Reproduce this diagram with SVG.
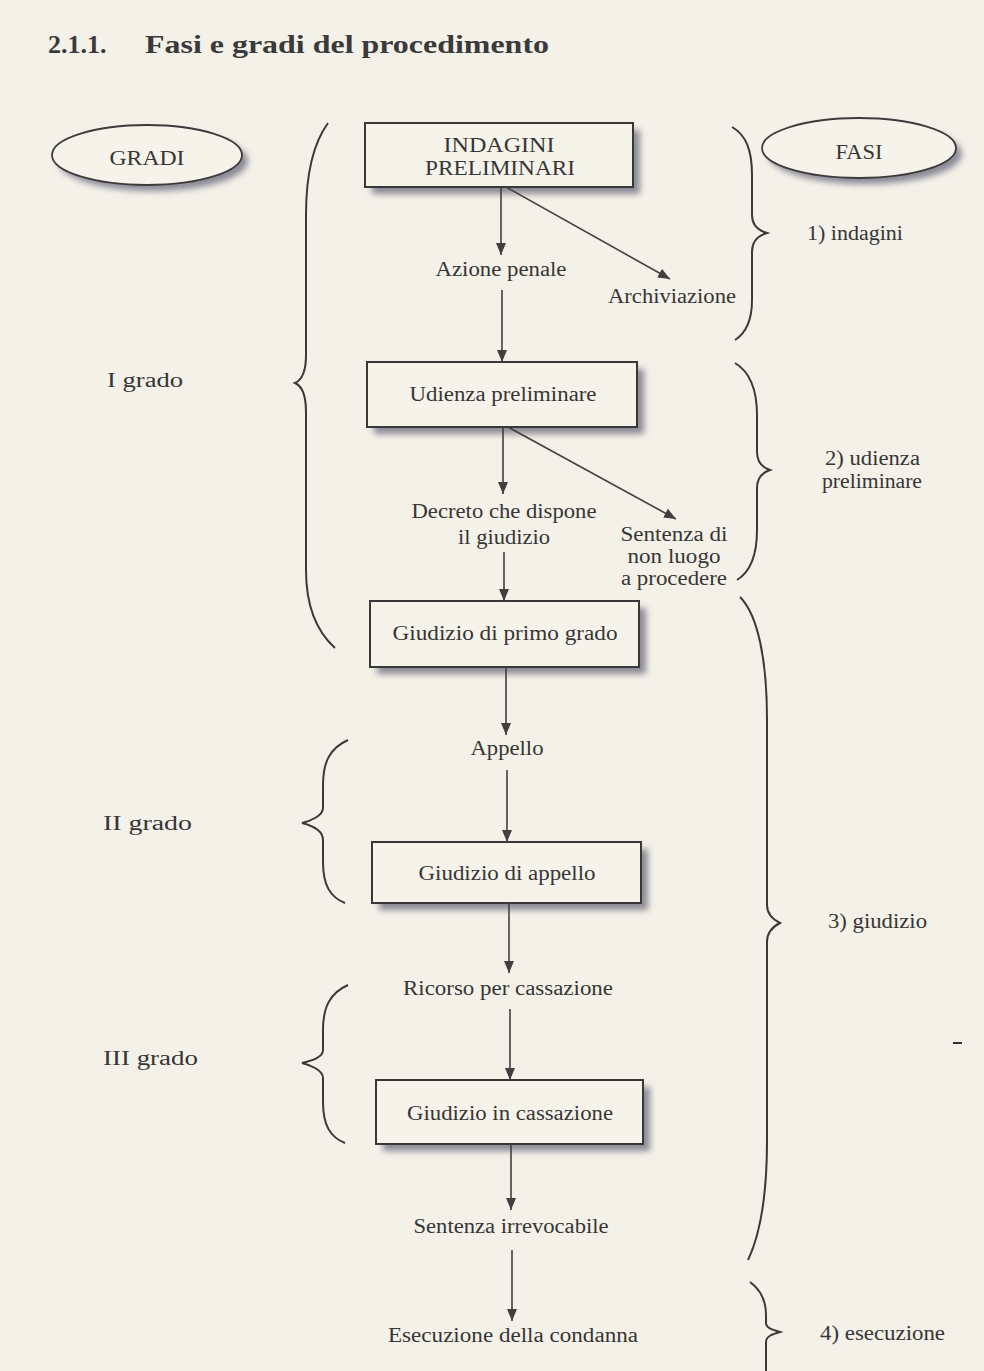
<svg xmlns="http://www.w3.org/2000/svg" width="984" height="1371" viewBox="0 0 984 1371">
<style>
text{font-family:"Liberation Serif","DejaVu Serif",serif;fill:#363636;font-size:20px}
.c{text-anchor:middle}
.t{font-weight:bold;font-size:26px;fill:#3a3a3a}
.box{fill:#f6f3ea;stroke:#383838;stroke-width:2}
.sh{fill:#8a8a96;filter:url(#blur)}
.ell{fill:#f6f3ea;stroke:#3c3c3c;stroke-width:1.8}
.br{fill:none;stroke:#3a3a3a;stroke-width:2}
.ln{stroke:#404040;stroke-width:1.6;fill:none;marker-end:url(#ah)}
</style>
<defs>
<filter id="blur" x="-20%" y="-40%" width="140%" height="180%"><feGaussianBlur stdDeviation="3"/></filter>
<marker id="ah" viewBox="0 0 12 12" refX="12" refY="6" markerWidth="12" markerHeight="12" markerUnits="userSpaceOnUse" orient="auto"><path d="M0,1 L12,6 L0,11 Z" fill="#404040"/></marker>
</defs>
<rect x="0" y="0" width="984" height="1371" fill="#f4f1e8"/>

<g id="title">
<text class="t" x="48" y="53">2.1.1.</text>
<text class="t" x="145" y="53" textLength="404" lengthAdjust="spacingAndGlyphs">Fasi e gradi del procedimento</text>
</g>

<g id="gradi">
<ellipse class="sh" cx="153" cy="161" rx="95" ry="30"/>
<ellipse class="ell" cx="147" cy="155" rx="95" ry="30"/>
<text class="c" x="147" y="165" textLength="75" lengthAdjust="spacingAndGlyphs">GRADI</text>
</g>
<g id="fasi">
<ellipse class="sh" cx="865" cy="154" rx="97" ry="30"/>
<ellipse class="ell" cx="859" cy="148" rx="97" ry="30"/>
<text class="c" x="859" y="159" textLength="47" lengthAdjust="spacingAndGlyphs">FASI</text>
</g>

<g id="n-indagini">
<rect class="sh" x="372" y="130" width="268" height="64"/>
<rect class="box" x="365" y="123" width="268" height="64"/>
<text class="c" x="499" y="152" textLength="111" lengthAdjust="spacingAndGlyphs">INDAGINI</text>
<text class="c" x="500" y="175" textLength="150" lengthAdjust="spacingAndGlyphs">PRELIMINARI</text>
</g>
<g id="n-azione"><text class="c" x="501" y="276" textLength="131" lengthAdjust="spacingAndGlyphs">Azione penale</text></g>
<g id="n-archiviazione"><text class="c" x="672" y="303" textLength="128" lengthAdjust="spacingAndGlyphs">Archiviazione</text></g>

<g id="n-udienza">
<rect class="sh" x="374" y="369" width="270" height="65"/>
<rect class="box" x="367" y="362" width="270" height="65"/>
<text class="c" x="503" y="401" textLength="187" lengthAdjust="spacingAndGlyphs">Udienza preliminare</text>
</g>
<g id="n-decreto">
<text class="c" x="504" y="518" textLength="185" lengthAdjust="spacingAndGlyphs">Decreto che dispone</text>
<text class="c" x="504" y="544" textLength="92" lengthAdjust="spacingAndGlyphs">il giudizio</text>
</g>
<g id="n-sentenza-nlp">
<text class="c" x="674" y="541" textLength="107" lengthAdjust="spacingAndGlyphs">Sentenza di</text>
<text class="c" x="674" y="563" textLength="93" lengthAdjust="spacingAndGlyphs">non luogo</text>
<text class="c" x="674" y="585" textLength="106" lengthAdjust="spacingAndGlyphs">a procedere</text>
</g>

<g id="n-primo">
<rect class="sh" x="377" y="608" width="269" height="66"/>
<rect class="box" x="370" y="601" width="269" height="66"/>
<text class="c" x="505" y="640" textLength="225" lengthAdjust="spacingAndGlyphs">Giudizio di primo grado</text>
</g>
<g id="n-appello"><text class="c" x="507" y="755" textLength="73" lengthAdjust="spacingAndGlyphs">Appello</text></g>
<g id="n-giud-appello">
<rect class="sh" x="379" y="849" width="269" height="61"/>
<rect class="box" x="372" y="842" width="269" height="61"/>
<text class="c" x="507" y="880" textLength="177" lengthAdjust="spacingAndGlyphs">Giudizio di appello</text>
</g>
<g id="n-ricorso"><text class="c" x="508" y="995" textLength="210" lengthAdjust="spacingAndGlyphs">Ricorso per cassazione</text></g>
<g id="n-cassazione">
<rect class="sh" x="383" y="1087" width="267" height="64"/>
<rect class="box" x="376" y="1080" width="267" height="64"/>
<text class="c" x="510" y="1120" textLength="206" lengthAdjust="spacingAndGlyphs">Giudizio in cassazione</text>
</g>
<g id="n-irrevocabile"><text class="c" x="511" y="1233" textLength="195" lengthAdjust="spacingAndGlyphs">Sentenza irrevocabile</text></g>
<g id="n-esecuzione"><text class="c" x="513" y="1342" textLength="250" lengthAdjust="spacingAndGlyphs">Esecuzione della condanna</text></g>

<g id="connectors">
<line class="ln" x1="501" y1="187" x2="501" y2="255"/>
<line class="ln" x1="506" y1="187" x2="670" y2="279"/>
<line class="ln" x1="502" y1="290" x2="502" y2="362"/>
<line class="ln" x1="503" y1="427" x2="503" y2="494"/>
<line class="ln" x1="508" y1="427" x2="676" y2="519"/>
<line class="ln" x1="504" y1="552" x2="504" y2="601"/>
<line class="ln" x1="506" y1="667" x2="506" y2="735"/>
<line class="ln" x1="507" y1="770" x2="507" y2="842"/>
<line class="ln" x1="509" y1="903" x2="509" y2="973"/>
<line class="ln" x1="510" y1="1009" x2="510" y2="1080"/>
<line class="ln" x1="511" y1="1144" x2="511" y2="1210"/>
<line class="ln" x1="512" y1="1250" x2="512" y2="1321"/>
</g>

<g id="braces-gradi">
<path class="br" d="M328,123 C312,145 306,175 306,215 L306,355 C306,372 302,380 295,383 C302,386 306,394 306,412 L306,570 C306,605 315,630 335,648"/>
<path class="br" d="M348,740 C330,748 323,762 323,785 L323,808 C323,816 310,821 302,823 C310,825 323,830 323,840 L323,862 C323,885 330,897 345,903"/>
<path class="br" d="M348,985 C330,993 323,1007 323,1030 L323,1050 C323,1058 310,1061 302,1063 C310,1065 323,1070 323,1078 L323,1102 C323,1125 330,1137 345,1143"/>
</g>
<g id="label-gradi">
<text x="107" y="387" textLength="76" lengthAdjust="spacingAndGlyphs">I grado</text>
<text x="103" y="830" textLength="89" lengthAdjust="spacingAndGlyphs">II grado</text>
<text x="103" y="1065" textLength="95" lengthAdjust="spacingAndGlyphs">III grado</text>
</g>

<g id="braces-fasi">
<path class="br" d="M732,127 C746,135 752,150 752,175 L752,215 C752,226 760,231 767,233 C760,235 752,240 752,252 L752,300 C752,320 746,333 735,340"/>
<path class="br" d="M735,363 C750,372 757,390 757,415 L757,452 C757,463 764,468 770,470 C764,472 757,477 757,488 L757,530 C757,556 750,572 737,580"/>
<path class="br" d="M740,597 C758,615 767,660 767,720 L767,905 C767,915 774,920 780,923 C774,926 767,931 767,942 L767,1140 C767,1195 760,1235 748,1260"/>
<path class="br" d="M750,1282 C761,1290 766,1300 766,1315 L766,1323 C766,1328 773,1330 780,1332 C773,1334 766,1336 766,1342 L766,1371"/>
</g>
<g id="label-fasi">
<text x="807" y="240" textLength="96" lengthAdjust="spacingAndGlyphs">1) indagini</text>
<text x="825" y="465" textLength="95" lengthAdjust="spacingAndGlyphs">2) udienza</text>
<text x="822" y="488" textLength="100" lengthAdjust="spacingAndGlyphs">preliminare</text>
<text x="828" y="928" textLength="99" lengthAdjust="spacingAndGlyphs">3) giudizio</text>
<text x="820" y="1340" textLength="125" lengthAdjust="spacingAndGlyphs">4) esecuzione</text>
</g>
<line x1="953" y1="1043" x2="962" y2="1043" stroke="#333" stroke-width="2"/>
</svg>
